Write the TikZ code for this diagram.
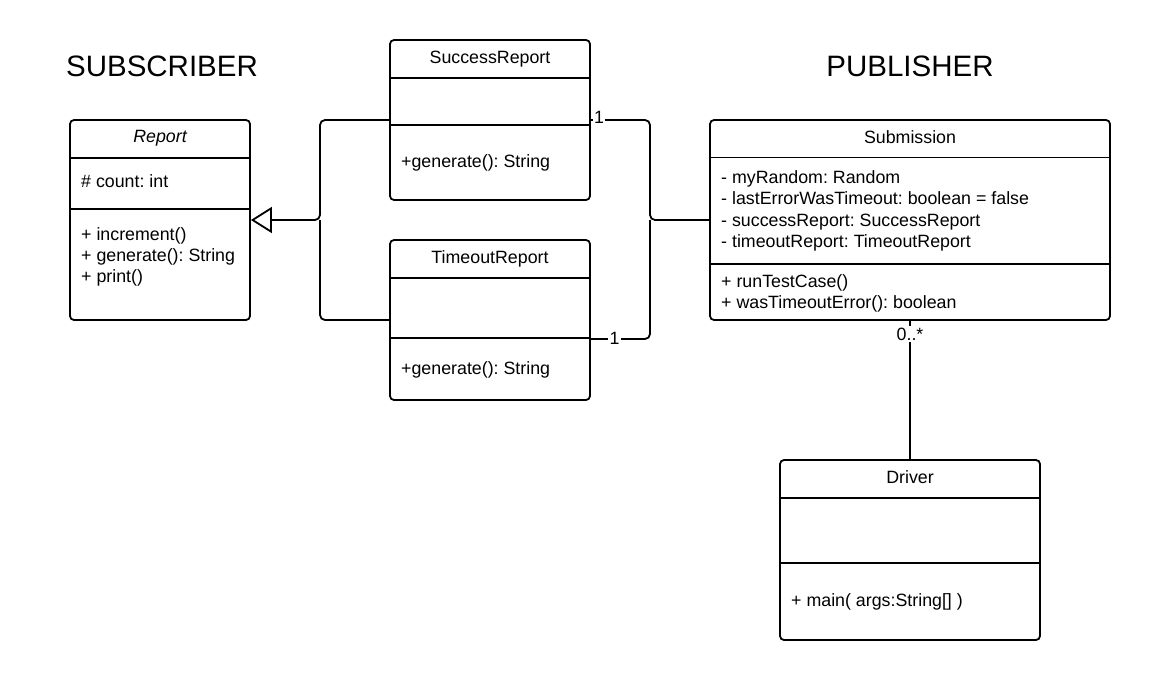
\documentclass[tikz,border=0pt]{standalone}
\usepackage{fontspec}
\setmainfont{Liberation Sans}
\frenchspacing
\usetikzlibrary{arrows.meta}
\tikzstyle{cls}=[draw=black,line width=1.8pt,rounded corners=4pt,fill=white,inner sep=0pt]
\tikzstyle{sep}=[line width=1.8pt]
\tikzstyle{txt}=[anchor=base west,inner sep=0pt,font=\fontsize{17.8}{20}\selectfont]
\tikzstyle{ttl}=[anchor=base,inner sep=0pt,font=\fontsize{17.8}{20}\selectfont]
\tikzstyle{head}=[anchor=base,inner sep=0pt,font=\fontsize{29.5}{32}\selectfont]
\tikzstyle{mult}=[anchor=base,fill=white,inner sep=1.5pt,font=\fontsize{17.8}{20}\selectfont]
\tikzstyle{conn}=[line width=1.8pt,rounded corners=5pt]
\begin{document}
\begin{tikzpicture}[x=1pt,y=-1pt]
\useasboundingbox (0,0) rectangle (1150,680);
\node[head] (lblsub) at (162,76) {SUBSCRIBER};
\node[head] (lblpub) at (910,76) {PUBLISHER};

% Report
\node[cls,minimum width=180pt,minimum height=200pt] (report) at (160,220) {};
\draw[sep] (70,158) -- (250,158);
\draw[sep] (70,209) -- (250,209);
\node[ttl] (reportname) at (160,142) {\itshape Report};
\node[txt] (reportcount) at (81,187) {\# count: int};
\node[txt] (reportinc) at (81,240) {+ increment()};
\node[txt] (reportgen) at (81,261) {+ generate(): String};
\node[txt] (reportprint) at (81,282) {+ print()};

% SuccessReport
\node[cls,minimum width=200pt,minimum height=160pt] (success) at (490,120) {};
\draw[sep] (390,78) -- (590,78);
\draw[sep] (390,125) -- (590,125);
\node[ttl] (successname) at (490,63) {SuccessReport};
\node[txt] (successgen) at (401,167.5) {+generate(): String};

% TimeoutReport
\node[cls,minimum width=200pt,minimum height=160pt] (timeout) at (490,320) {};
\draw[sep] (390,278) -- (590,278);
\draw[sep] (390,338) -- (590,338);
\node[ttl] (timeoutname) at (490,263) {TimeoutReport};
\node[txt] (timeoutgen) at (401,374) {+generate(): String};

% Submission
\node[cls,minimum width=400pt,minimum height=200pt] (submission) at (910,220) {};
\draw[sep] (710,157.5) -- (1110,157.5);
\draw[sep] (710,264) -- (1110,264);
\node[ttl] (submissionname) at (910,143) {Submission};
\node[txt] (subrandom) at (721,183) {- myRandom: Random};
\node[txt] (sublast) at (721,204.5) {- lastErrorWasTimeout: boolean = false};
\node[txt] (subsuccess) at (721,226) {- successReport: SuccessReport};
\node[txt] (subtimeout) at (721,247.5) {- timeoutReport: TimeoutReport};
\node[txt] (subrun) at (721,287) {+ runTestCase()};
\node[txt] (subwas) at (721,308) {+ wasTimeoutError(): boolean};

% Driver
\node[cls,minimum width=260pt,minimum height=180pt] (driver) at (910,550) {};
\draw[sep] (780,498) -- (1040,498);
\draw[sep] (780,563) -- (1040,563);
\node[ttl] (drivername) at (910,483) {Driver};
\node[txt] (drivermain) at (791,606.5) {+ main( args:String[] )};

% connectors
\coordinate (hubL) at (320,220);
\coordinate (hubR) at (650,220);
\draw[conn,-{Triangle[open,length=21pt,width=26pt]}] (success.west) -| (hubL) -- (report.east);
\draw[conn] (timeout.west) -| (hubL);
\draw[conn] (success.east) -| (hubR) -- (submission.west);
\draw[conn] ([yshift=-19pt]timeout.east) -| (hubR);
\draw[conn] (submission.south) -- (driver.north);
\node[mult] (multsuccess) at (599,123) {1};
\node[mult] (multtimeout) at (614.5,344) {1};
\node[mult] (multdriver) at (910,340) {0..*};
\end{tikzpicture}
\end{document}
